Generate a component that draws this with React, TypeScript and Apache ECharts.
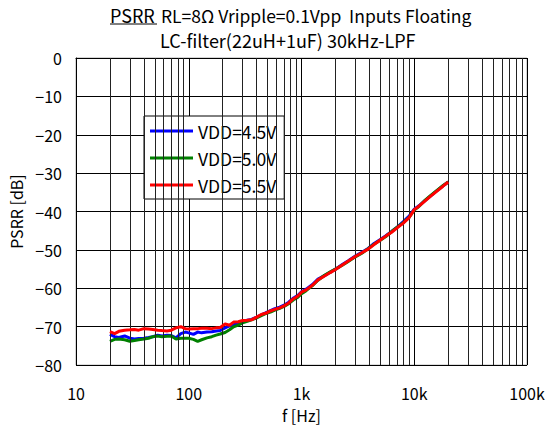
import React, { useEffect, useRef } from "react";
import * as echarts from "echarts";

const freq = [20, 22, 24, 27, 30, 33, 36, 40, 44, 48, 53, 58, 64, 70, 77, 85, 93, 100, 110, 120, 130, 145, 160, 175, 190, 210, 230, 250, 275, 300, 330, 360, 400, 440, 480, 530, 580, 640, 700, 770, 850, 930, 1000, 1100, 1250, 1400, 1600, 1800, 2000, 2300, 2600, 3000, 3400, 3900, 4400, 5000, 5600, 6300, 7100, 8000, 9000, 10000, 11000, 12500, 14000, 16000, 18000, 20000];

const vdd45 = [-72.0, -72.6, -72.8, -72.4, -73.0, -73.2, -73.1, -73.0, -72.8, -72.6, -72.2, -72.4, -72.2, -72.3, -72.9, -71.8, -71.4, -71.6, -72.0, -71.4, -71.6, -71.4, -71.3, -71.1, -71.0, -70.3, -69.8, -69.5, -69.0, -68.6, -68.3, -68.1, -67.5, -66.9, -66.4, -65.8, -65.3, -64.9, -64.4, -63.6, -62.5, -61.8, -60.9, -60.2, -59.0, -57.6, -56.7, -55.8, -55.0, -53.8, -52.8, -51.6, -50.7, -49.6, -48.3, -47.3, -46.3, -45.2, -44.0, -42.6, -41.2, -39.4, -38.5, -37.1, -35.9, -34.5, -33.3, -32.3];

const vdd50 = [-73.8, -73.3, -73.2, -73.4, -73.8, -73.6, -73.4, -73.2, -73.0, -72.6, -72.4, -72.6, -72.5, -72.4, -73.2, -73.0, -73.0, -73.0, -73.3, -73.8, -73.4, -72.9, -72.6, -72.2, -71.9, -71.5, -70.8, -70.0, -69.6, -69.0, -68.6, -68.2, -67.7, -67.1, -66.6, -66.2, -65.7, -65.2, -64.7, -64.0, -63.0, -62.3, -61.4, -60.6, -59.3, -57.9, -56.6, -55.7, -55.0, -54.0, -53.0, -51.8, -50.9, -49.7, -48.5, -47.5, -46.5, -45.2, -44.0, -42.9, -41.5, -39.6, -38.7, -37.0, -35.8, -34.4, -33.2, -32.3];

const vdd55 = [-71.3, -71.8, -71.2, -70.9, -70.8, -70.7, -70.9, -70.5, -70.6, -70.7, -70.9, -71.0, -71.1, -70.9, -70.3, -70.0, -70.5, -70.6, -70.5, -70.5, -70.4, -70.4, -70.5, -70.3, -70.2, -69.3, -69.6, -68.8, -68.7, -68.4, -68.3, -68.2, -67.5, -66.8, -66.5, -65.9, -65.5, -65.1, -64.6, -63.8, -62.7, -62.0, -61.0, -60.4, -59.2, -57.8, -56.8, -55.9, -55.1, -53.9, -52.9, -51.7, -50.8, -49.8, -48.6, -47.4, -46.4, -45.4, -44.2, -43.0, -41.6, -39.5, -38.6, -37.2, -36.0, -34.6, -33.4, -32.3];

const seriesNames = ["VDD=4.5V", "VDD=5.0V", "VDD=5.5V"];
const seriesColors = ["#0000ff", "#008000", "#ff0000"];

const minorFreqs = [20, 30, 40, 50, 60, 70, 80, 90, 200, 300, 400, 500, 600, 700, 800, 900, 2000, 3000, 4000, 5000, 6000, 7000, 8000, 9000, 20000, 30000, 40000, 50000, 60000, 70000, 80000, 90000];

const xTickLabels: Record<number, string> = { 10: "10", 100: "100", 1000: "1k", 10000: "10k", 100000: "100k" };

const titleMain = "PSRR";
const titleRest = "RL=8Ω Vripple=0.1Vpp  Inputs Floating";
const titleLine2 = "LC-filter(22uH+1uF) 30kHz-LPF";

const FONT = "'Noto Sans CJK JP', 'Noto Sans', sans-serif";

export default function App() {
  const ref = useRef<HTMLDivElement>(null);
  useEffect(() => {
    if (!ref.current) return;
    const chart = echarts.init(ref.current, undefined, { renderer: "svg" });
    const values = [vdd45, vdd50, vdd55];
    chart.setOption({
      animation: false,
      backgroundColor: "#ffffff",
      textStyle: { fontFamily: FONT },
      grid: {
        left: 76,
        right: 24,
        top: 58,
        height: 318,
        show: true,
        borderColor: "#aaaaaa",
        borderWidth: 1,
      },
      graphic: [
        { type: "text", x: 110, y: 15, style: { text: titleMain, font: `18px ${FONT}`, fill: "#000", verticalAlign: "middle", align: "left" } },
        { type: "line", shape: { x1: 110, y1: 24, x2: 157, y2: 24 }, style: { stroke: "#000", lineWidth: 1 } },
        { type: "text", x: 161, y: 15, style: { text: titleRest, font: `17.5px ${FONT}`, fill: "#000", verticalAlign: "middle", align: "left" } },
        { type: "text", x: 160, y: 40, style: { text: titleLine2, font: `18px ${FONT}`, fill: "#000", verticalAlign: "middle", align: "left" } },
      ],
      legend: {
        orient: "vertical",
        left: 144,
        top: 116,
        backgroundColor: "#ffffff",
        borderColor: "#000000",
        borderWidth: 1,
        padding: [6, 8, 5, 6],
        itemWidth: 43,
        itemHeight: 3,
        itemGap: 9,
        icon: "rect",
        textStyle: { fontSize: 17.5, lineHeight: 18, color: "#000", fontFamily: FONT },
        data: seriesNames,
      },
      xAxis: {
        type: "log",
        logBase: 10,
        min: 10,
        max: 100000,
        name: "f [Hz]",
        nameLocation: "middle",
        nameGap: 38,
        nameTextStyle: { fontSize: 16, lineHeight: 17, color: "#000", fontFamily: FONT },
        axisLine: { show: true, lineStyle: { color: "#000", width: 1 } },
        axisTick: { show: false },
        axisLabel: {
          fontSize: 16,
          lineHeight: 17,
          color: "#000",
          margin: 19,
          fontFamily: FONT,
          formatter: (v: number) => xTickLabels[Math.round(v)] ?? "",
        },
        splitLine: { show: true, lineStyle: { color: "#000", width: 1 } },
        minorTick: { show: false },
        minorSplitLine: { show: false },
      },
      yAxis: {
        type: "value",
        min: -80,
        max: 0,
        interval: 10,
        name: "PSRR [dB]",
        nameLocation: "middle",
        nameGap: 51,
        nameTextStyle: { fontSize: 16, color: "#000", fontFamily: FONT },
        axisLine: { show: true, lineStyle: { color: "#000", width: 1 } },
        axisTick: { show: false },
        axisLabel: {
          fontSize: 16,
          color: "#000",
          margin: 14,
          fontFamily: FONT,
          formatter: (v: number) => (v < 0 ? "−" + Math.abs(v) : String(v)),
        },
        splitLine: { show: true, lineStyle: { color: "#000", width: 1 } },
      },
      series: [
        {
          name: "grid-minor",
          type: "line",
          data: [],
          silent: true,
          z: 1,
          markLine: {
            silent: true,
            symbol: ["none", "none"],
            label: { show: false },
            lineStyle: { color: "#222222", width: 1, type: "solid" },
            emphasis: { disabled: true },
            data: minorFreqs.map((f) => ({ xAxis: f })),
          },
        },
        ...seriesNames.map((name, i) => ({
          name,
          type: "line",
          z: 3 + i,
          showSymbol: false,
          symbol: "none",
          smooth: false,
          color: seriesColors[i],
          lineStyle: { color: seriesColors[i], width: 3 },
          data: freq.map((f, j) => [f, values[i][j]]),
        })),
      ],
    });
    return () => chart.dispose();
  }, []);
  return (
    <div
      ref={ref}
      style={{ position: "absolute", left: 0, top: 0, width: 551, height: 428, background: "#fff" }}
    />
  );
}
